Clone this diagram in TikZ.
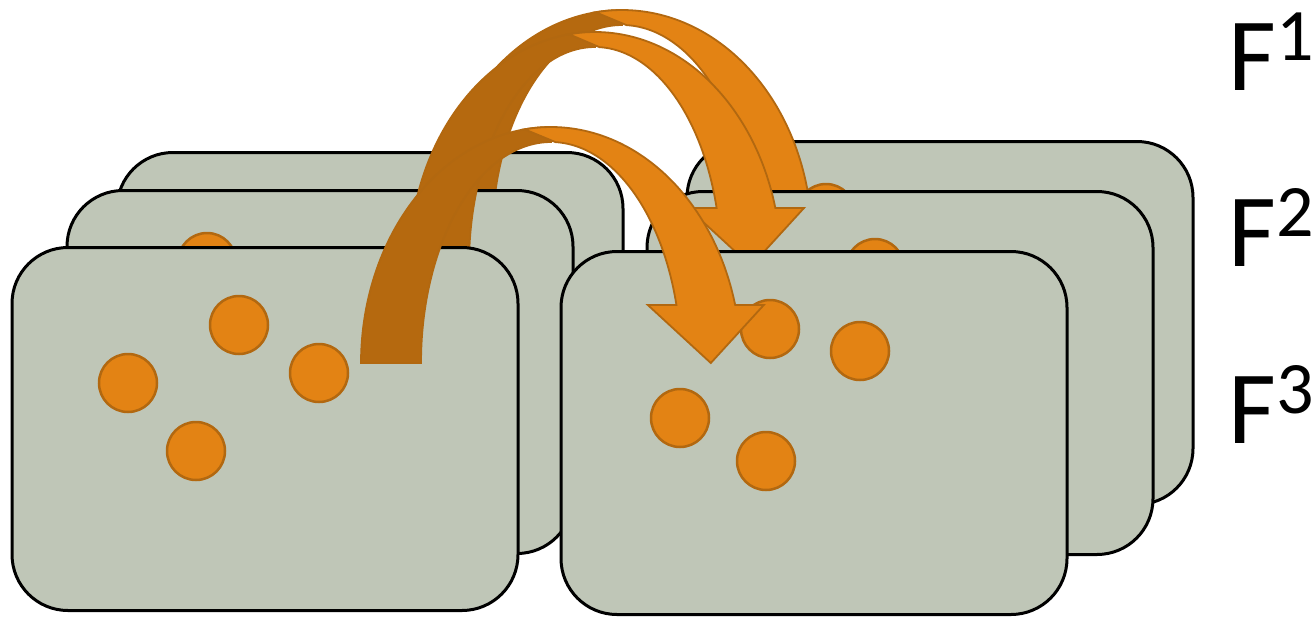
\documentclass[tikz,border=0pt]{standalone}
\usepackage{fontspec}
\usepackage{tikz}
\newfontfamily\labelfont{Carlito}
\definecolor{framefill}{RGB}{191,198,183}
\definecolor{dotfill}{RGB}{227,131,20}
\definecolor{dotline}{RGB}{178,104,16}
\definecolor{arcdark}{RGB}{181,105,15}
\newcommand{\fexp}[1]{\raisebox{30pt}{\fontsize{74}{74}\selectfont #1}}
\newcommand{\bentarrow}[5]{%
  \pgfmathsetmacro{\bai}{#3-60}\pgfmathsetmacro{\bbi}{#4-15}%
  \pgfmathsetmacro{\bango}{360+asin((#5-#2)/#4)}%
  \pgfmathsetmacro{\bangi}{360+asin((#5-#2)/\bbi)}%
  \pgfmathsetmacro{\bxo}{#1+#3*cos(\bango)}%
  \pgfmathsetmacro{\bxi}{#1+\bai*cos(\bangi)}%
  \pgfmathsetmacro{\bxm}{(\bxo+\bxi)/2}%
  \filldraw[backarc] plot[domain=180:270,variable=\q] ({#1+#3*cos(\q)},{#2+#4*sin(\q)})
    -- plot[domain=270:180,variable=\q] ({#1+\bai*cos(\q)},{#2+\bbi*sin(\q)}) -- cycle;
  \filldraw[frontarc] plot[domain=262:\bango,variable=\q] ({#1+#3*cos(\q)},{#2+#4*sin(\q)})
    -- ({\bxm+58},#5) -- ({\bxm+5},{#5+58}) -- ({\bxm-58},#5)
    -- plot[domain=\bangi:272,variable=\q] ({#1+\bai*cos(\q)},{#2+\bbi*sin(\q)}) -- cycle;}

\begin{document}
\begin{tikzpicture}[x=1pt,y=-1pt,
    frame/.style={draw,line width=3pt,fill=framefill,rounded corners=56pt,
      minimum width=506pt,minimum height=363pt,inner sep=0pt},
    dot/.style={circle,draw=dotline,line width=2.5pt,fill=dotfill,
      minimum size=58pt,inner sep=0pt},
    backarc/.style={draw=dotline,line width=1.8pt,fill=arcdark,samples=70},
    frontarc/.style={draw=dotline,line width=1.8pt,fill=dotfill,samples=70},
    flabel/.style={anchor=base west,inner sep=0pt,font=\labelfont\fontsize{104}{110}\selectfont}]
  \useasboundingbox (0,0) rectangle (1314,619);
  \node[frame] (lb) at (370,334) {};
  \node[frame] (rb) at (940,323) {};
  \node[dot] (rb1) at (826,213) {};
  \bentarrow{622}{240}{190}{230}{225}
  \node[frame] (lm) at (320,372) {};
  \node[frame] (rm) at (900,373) {};
  \node[dot] (lm1) at (207,262) {};
  \node[dot] (rm1) at (875,268) {};
  \bentarrow{595}{265}{186}{233}{208}
  \node[frame] (lf) at (265,429) {};
  \node[frame] (rf) at (814,433) {};
  \node[dot] (lf1) at (239,325) {};
  \node[dot] (lf2) at (128,383) {};
  \node[dot] (lf3) at (319,373) {};
  \node[dot] (lf4) at (196,451) {};
  \node[dot] (rf1) at (770,329) {};
  \node[dot] (rf2) at (860,351) {};
  \node[dot] (rf3) at (680,418) {};
  \node[dot] (rf4) at (766,461) {};
  \bentarrow{551}{363}{190}{236}{305}
  \node[flabel] (f1) at (1228,90) {F\fexp{1}};
  \node[flabel] (f2) at (1228,266) {F\fexp{2}};
  \node[flabel] (f3) at (1228,443) {F\fexp{3}};
\end{tikzpicture}
\end{document}
